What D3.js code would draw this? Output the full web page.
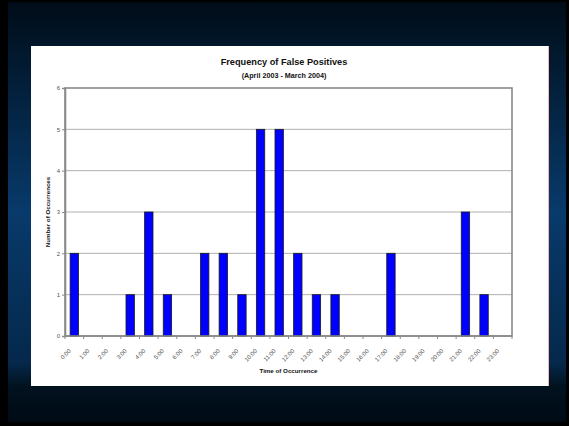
<!DOCTYPE html>
<html>
<head>
<meta charset="utf-8">
<script src="https://cdn.jsdelivr.net/npm/d3@7"></script>
<style>
  html, body { margin: 0; padding: 0; background: #000; }
  svg { display: block; }
</style>
</head>
<body>
<svg id="chart" width="569" height="426"></svg>
<script>
// Hourly counts of false positives, April 2003 - March 2004
const hours = ["0:00","1:00","2:00","3:00","4:00","5:00","6:00","7:00","8:00","9:00","10:00","11:00",
               "12:00","13:00","14:00","15:00","16:00","17:00","18:00","19:00","20:00","21:00","22:00","23:00"];
const occurrences = [2,0,0,1,3,1,0,2,2,1,5,5,2,1,1,0,0,2,0,0,0,3,1,0];
const yTicks = [0,1,2,3,4,5,6];

const titleText = "Frequency of False Positives";
const subtitleText = "(April 2003 - March 2004)";
const xTitle = "Time of Occurrence";
const yTitle = "Number of Occurrences";

const W = 569, H = 426;
const svg = d3.select("#chart");
const font = "Arial, 'Liberation Sans', sans-serif";

// slide background
const defs = svg.append("defs");
const grad = defs.append("linearGradient").attr("id", "bg").attr("x1", 0).attr("y1", 0).attr("x2", 0).attr("y2", 1);
[[0, "#000c18"], [0.1, "#011629"], [0.5, "#083a6b"], [0.86, "#05284b"], [0.915, "#01121f"], [1, "#000a14"]]
  .forEach(([o, c]) => grad.append("stop").attr("offset", o).attr("stop-color", c));

svg.append("rect").attr("width", W).attr("height", H).attr("fill", "#000");
svg.append("rect").attr("x", 8).attr("y", 2).attr("width", W - 11).attr("height", H - 6).attr("fill", "url(#bg)");

// white chart panel
svg.append("rect").attr("x", 31).attr("y", 46).attr("width", 517).attr("height", 340).attr("fill", "#fff");
svg.append("line").attr("x1", 548.5).attr("x2", 548.5).attr("y1", 46).attr("y2", 386)
  .attr("stroke", "#f4b6b6").attr("stroke-width", 1);

// plot area
const plot = { left: 65, right: 512, top: 88, bottom: 336 };

const x = d3.scaleBand().domain(hours).range([plot.left, plot.right]).paddingInner(0.55).paddingOuter(0.275);
const xCat = d3.scaleBand().domain(hours).range([plot.left, plot.right]);
const y = d3.scaleLinear().domain([0, 6]).range([plot.bottom, plot.top]);

const g = svg.append("g");

// horizontal gridlines
g.append("g").selectAll("line").data(yTicks.filter(d => d > 0 && d < 6)).join("line")
  .attr("x1", plot.left).attr("x2", plot.right)
  .attr("y1", d => y(d)).attr("y2", d => y(d))
  .attr("stroke", "#b0b0b0").attr("stroke-width", 1);

// plot frame
g.append("rect").attr("x", plot.left).attr("y", plot.top)
  .attr("width", plot.right - plot.left).attr("height", plot.bottom - plot.top)
  .attr("fill", "none").attr("stroke", "#8a8a8a").attr("stroke-width", 1.6);

// bars
g.append("g").selectAll("rect").data(occurrences.map((v, i) => ({ h: hours[i], v })).filter(d => d.v > 0)).join("rect")
  .attr("x", d => x(d.h)).attr("width", x.bandwidth())
  .attr("y", d => y(d.v)).attr("height", d => y(0) - y(d.v))
  .attr("fill", "#0000ff").attr("stroke", "#1a1a1a").attr("stroke-width", 0.8);

// y axis
const yAxis = d3.axisLeft(y).tickValues(yTicks).tickSize(3).tickFormat(d3.format("d"));
const ya = g.append("g").attr("transform", `translate(${plot.left},0)`).call(yAxis);
ya.select(".domain").attr("stroke", "#8a8a8a").attr("stroke-width", 1.6);
ya.selectAll(".tick line").attr("stroke", "#8a8a8a");
ya.selectAll(".tick text").attr("font-family", font).attr("font-size", 6).attr("fill", "#555").attr("x", -5);

// x axis: ticks on category boundaries, rotated labels
const xa = g.append("g").attr("transform", `translate(0,${plot.bottom})`);
xa.append("line").attr("x1", plot.left).attr("x2", plot.right).attr("stroke", "#8a8a8a").attr("stroke-width", 1.6);
xa.selectAll("line.tk").data(d3.range(hours.length + 1)).join("line").attr("class", "tk")
  .attr("x1", i => plot.left + i * xCat.step()).attr("x2", i => plot.left + i * xCat.step())
  .attr("y1", 0).attr("y2", 3).attr("stroke", "#8a8a8a");
xa.selectAll("text").data(hours).join("text")
  .attr("transform", d => `translate(${xCat(d) + xCat.bandwidth() / 2 - 3},${15.5}) rotate(-45)`)
  .attr("text-anchor", "end")
  .attr("font-family", font).attr("font-size", 6).attr("fill", "#505050")
  .style("text-rendering", "geometricPrecision")
  .text(d => d);

// titles
svg.append("text").attr("x", 284).attr("y", 65).attr("text-anchor", "middle")
  .attr("font-family", font).attr("font-weight", "bold").attr("font-size", 9.2).attr("fill", "#111")
  .text(titleText);
svg.append("text").attr("x", 284).attr("y", 77.5).attr("text-anchor", "middle")
  .attr("font-family", font).attr("font-weight", "bold").attr("font-size", 7.2).attr("fill", "#111")
  .text(subtitleText);
svg.append("text").attr("x", (plot.left + plot.right) / 2).attr("y", 373).attr("text-anchor", "middle")
  .attr("font-family", font).attr("font-weight", "bold").attr("font-size", 6.2).attr("fill", "#111")
  .text(xTitle);
svg.append("text").attr("transform", `translate(50,${(plot.top + plot.bottom) / 2}) rotate(-90)`)
  .attr("text-anchor", "middle")
  .attr("font-family", font).attr("font-weight", "bold").attr("font-size", 6.2).attr("fill", "#111")
  .text(yTitle);
</script>
</body>
</html>
